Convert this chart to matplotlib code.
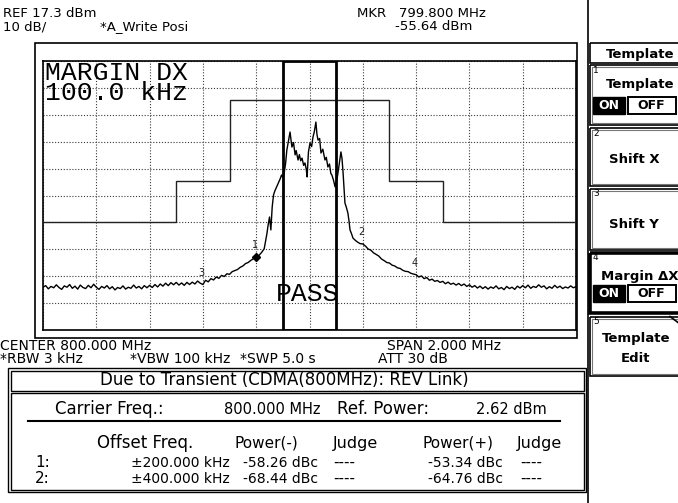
import matplotlib
matplotlib.use("Agg")
import matplotlib.pyplot as plt
from matplotlib.patches import Rectangle
import numpy as np

# ---------------- data ----------------
ref_level_dbm = 17.3
db_per_div = 10
center_mhz = 800.0
span_mhz = 2.0
ref_power_dbm = 2.62

trace_freq_mhz = [
    799.00, 799.01, 799.02, 799.03, 799.04, 799.05, 799.06, 799.07, 799.08, 799.09,
    799.10, 799.11, 799.12, 799.13, 799.14, 799.15, 799.16, 799.17, 799.18, 799.19,
    799.20, 799.21, 799.22, 799.23, 799.24, 799.25, 799.26, 799.27, 799.28, 799.29,
    799.30, 799.31, 799.32, 799.33, 799.34, 799.35, 799.36, 799.37, 799.38, 799.39,
    799.40, 799.41, 799.42, 799.43, 799.44, 799.45, 799.46, 799.47, 799.48, 799.49,
    799.50, 799.51, 799.52, 799.53, 799.54, 799.55, 799.56, 799.57, 799.58, 799.59,
    799.60, 799.61, 799.62, 799.63, 799.64, 799.65, 799.66, 799.67, 799.68, 799.69,
    799.70, 799.71, 799.72, 799.73, 799.74, 799.75, 799.76, 799.77, 799.78, 799.79,
    799.80, 799.81, 799.82, 799.83, 799.84, 799.845, 799.85, 799.855, 799.86, 799.865,
    799.87, 799.875, 799.88, 799.885, 799.89, 799.895, 799.90, 799.905, 799.91, 799.915,
    799.92, 799.927, 799.934, 799.94, 799.946, 799.95, 799.957, 799.962, 799.967, 799.972,
    799.978, 799.983, 799.988, 799.991, 799.996, 800.002, 800.008, 800.013, 800.018, 800.024,
    800.028, 800.032, 800.038, 800.043, 800.050, 800.058, 800.063, 800.069, 800.075, 800.080,
    800.084, 800.090, 800.096, 800.100, 800.103, 800.110, 800.118, 800.122, 800.126, 800.130,
    800.133, 800.138, 800.144, 800.148, 800.152, 800.158, 800.163, 800.17, 800.18, 800.19,
    800.20, 800.21, 800.22, 800.23, 800.24, 800.25, 800.26, 800.27, 800.28, 800.29,
    800.30, 800.31, 800.32, 800.33, 800.34, 800.35, 800.36, 800.37, 800.38, 800.39,
    800.40, 800.41, 800.42, 800.43, 800.44, 800.45, 800.46, 800.47, 800.48, 800.49,
    800.50, 800.51, 800.52, 800.53, 800.54, 800.55, 800.56, 800.57, 800.58, 800.59,
    800.60, 800.61, 800.62, 800.63, 800.64, 800.65, 800.66, 800.67, 800.68, 800.69,
    800.70, 800.71, 800.72, 800.73, 800.74, 800.75, 800.76, 800.77, 800.78, 800.79,
    800.80, 800.81, 800.82, 800.83, 800.84, 800.85, 800.86, 800.87, 800.88, 800.89,
    800.90, 800.91, 800.92, 800.93, 800.94, 800.95, 800.96, 800.97, 800.98, 800.99,
    801.00,
]
trace_level_dbm = [
    -66.8, -66.2, -67.4, -66.5, -67.0, -65.9, -66.9, -67.6, -66.3, -66.8,
    -65.8, -67.2, -66.4, -67.5, -66.0, -66.9, -67.3, -66.1, -67.0, -65.7,
    -66.8, -67.6, -66.5, -67.1, -66.2, -67.4, -66.6, -67.8, -66.9, -67.3,
    -66.3, -67.5, -66.8, -67.2, -66.0, -67.1, -66.5, -67.4, -66.2, -67.0,
    -66.1, -66.9, -65.8, -66.7, -65.6, -66.4, -65.3, -66.2, -65.1, -65.9,
    -65.0, -66.0, -65.2, -66.1, -65.0, -65.8, -64.9, -65.6, -64.5, -65.3,
    -65.8, -64.2, -64.8, -63.6, -64.1, -63.0, -63.5, -62.4, -62.8, -61.8,
    -62.0, -61.0, -60.6, -60.2, -59.4, -58.9, -58.0, -57.6, -56.8, -56.2,
    -55.64, -55.0, -53.9, -52.5, -47.0, -43.5, -40.7, -45.5, -37.0, -32.5,
    -31.0, -29.9, -28.9, -27.7, -26.5, -25.1, -26.0, -24.3, -21.0, -15.8,
    -13.0, -9.1, -14.7, -13.0, -17.6, -16.0, -19.5, -17.5, -19.8, -18.8,
    -21.5, -20.6, -23.0, -25.8, -16.5, -13.2, -14.5, -11.0, -9.0, -5.4,
    -10.0, -12.1, -11.5, -16.9, -15.5, -19.5, -18.5, -22.1, -21.0, -24.5,
    -25.1, -27.0, -29.5, -27.5, -26.9, -22.0, -16.5, -19.0, -24.3, -30.7,
    -35.5, -37.0, -39.2, -42.0, -45.5, -47.0, -48.5, -49.2, -50.0, -50.6,
    -50.72, -51.5, -52.6, -53.0, -54.0, -54.6, -55.2, -56.3, -56.9, -57.6,
    -57.8, -58.6, -58.9, -59.6, -59.8, -60.5, -60.9, -61.0, -61.6, -61.9,
    -62.14, -63.0, -62.6, -63.6, -63.2, -64.2, -63.8, -64.6, -64.3, -65.0,
    -64.6, -65.5, -64.9, -65.7, -65.3, -66.0, -65.4, -66.2, -65.6, -66.5,
    -65.9, -66.8, -66.2, -67.1, -66.4, -67.3, -66.6, -67.5, -66.7, -67.2,
    -66.3, -67.4, -66.9, -67.7, -66.5, -67.3, -66.8, -67.6, -66.4, -67.1,
    -66.2, -67.0, -66.0, -67.2, -66.5, -66.9, -65.9, -66.8, -66.3, -67.4,
    -66.6, -67.2, -66.1, -67.0, -66.4, -67.3, -66.7, -67.1, -66.3, -67.0,
    -66.6,
]

# template mask (relative to reference power)
template_edges_mhz = [799.0, 799.5, 799.7, 800.3, 800.5, 801.0]
template_dbc = [-45, -30, 0, -30, -45]

# margin box
margin_dx_mhz = 0.1

# markers
marker_ids = ["1", "2", "3", "4"]
marker_offsets_khz = [-200, 200, -400, 400]
marker_dbc = [-58.26, -53.34, -68.44, -64.76]

# result table
offset_labels = ["1:", "2:"]
offset_freqs = ["\u00b1200.000 kHz", "\u00b1400.000 kHz"]
power_minus = ["-58.26 dBc", "-68.44 dBc"]
power_plus = ["-53.34 dBc", "-64.76 dBc"]
judge_minus = ["----", "----"]
judge_plus = ["----", "----"]

# ---------------- figure ----------------
W, H = 678, 503
fig = plt.figure(figsize=(W / 100, H / 100), dpi=100)
fig.patch.set_facecolor("white")

# spectrum axes (pixel box: x 43..576, y 61..330)
gx0, gx1, gy0, gy1 = 43, 576, 61, 330
ax = fig.add_axes([gx0 / W, 1 - gy1 / H, (gx1 - gx0) / W, (gy1 - gy0) / H])
ax.set_zorder(1)
ax.patch.set_alpha(0)
fmin, fmax = center_mhz - span_mhz / 2, center_mhz + span_mhz / 2
ytop = ref_level_dbm
ybot = ref_level_dbm - 10 * db_per_div
ax.set_xlim(fmin, fmax)
ax.set_ylim(ybot, ytop)
ax.set_xticks(np.linspace(fmin, fmax, 11))
ax.set_yticks(np.linspace(ybot, ytop, 11))
ax.tick_params(length=0, labelbottom=False, labelleft=False)
ax.grid(True, color="#3a3a3a", linestyle=(0, (1, 1.6)), linewidth=0.8)
for s in ax.spines.values():
    s.set_linewidth(1.2)
    s.set_color("black")

# template
ax.stairs([ref_power_dbm + d for d in template_dbc], template_edges_mhz,
          baseline=None, color="#222222", linewidth=1.0, zorder=3)
# trace
ax.plot(trace_freq_mhz, trace_level_dbm, color="black", linewidth=1.0, zorder=4)
# margin box
ax.axvspan(center_mhz - margin_dx_mhz, center_mhz + margin_dx_mhz,
           fill=False, edgecolor="black", linewidth=2.0, zorder=5)
# markers
for mid, off, dbc in zip(marker_ids, marker_offsets_khz, marker_dbc):
    mf = center_mhz + off / 1000.0
    ml = ref_power_dbm + dbc
    if mid == "1":
        ax.plot([mf], [ml], marker="D", markersize=4.5, color="black", zorder=6)
    ax.annotate(mid, (mf, ml), xytext=(-1, 5), textcoords="offset points",
                fontsize=7, ha="center", va="bottom", color="#222222", zorder=6)

# overlay axes in pixel coordinates
bg = fig.add_axes([0, 0, 1, 1])
bg.set_zorder(2)
bg.patch.set_alpha(0)
bg.set_xlim(0, W)
bg.set_ylim(H, 0)
bg.axis("off")

SANS = "DejaVu Sans"
MONO = "Liberation Mono"


def T(x, y, s, size=9.5, ha="left", va="baseline", **kw):
    kw.setdefault("family", SANS)
    bg.text(x, y, s, fontsize=size, ha=ha, va=va, **kw)


def R(x0, y0, x1, y1, lw=1.0, ec="black", fc="none", **kw):
    bg.add_patch(Rectangle((x0, y0), x1 - x0, y1 - y0, linewidth=lw,
                           edgecolor=ec, facecolor=fc, **kw))


# header
T(3, 17, "REF 17.3 dBm")
T(3, 30, "10 dB/")
T(100, 30, "*A_Write Posi")
T(357, 17, "MKR   799.800 MHz")
T(395, 30, "-55.64 dBm")

# graph frame
R(35, 43, 577, 338, lw=1.2)
# separator
bg.plot([587.5, 587.5], [0, H], color="black", lw=1.2)

# big text in graph (two lines in one text object)
T(45, 61, "MARGIN DX\n100.0 kHz", size=19, family=MONO, va="top",
  linespacing=0.78)
T(308, 301, "PASS", size=19, family=MONO, ha="center")

# footer lines
T(0, 350, "CENTER 800.000 MHz", size=10)
T(387, 350, "SPAN 2.000 MHz", size=10)
T(0, 363, "*RBW 3 kHz", size=10)
T(130, 363, "*VBW 100 kHz", size=10)
T(240, 363, "*SWP 5.0 s", size=10)
T(378, 363, "ATT 30 dB", size=10)

# table
R(8, 368, 586, 492, lw=1.0)
R(10.5, 370.5, 583.5, 390.5, lw=1.0)
R(10.5, 393, 583.5, 489.5, lw=1.0)
T(284, 385, "Due to Transient (CDMA(800MHz): REV Link)", size=12, ha="center")
T(55, 414, "Carrier Freq.:", size=12)
T(320, 414, "800.000 MHz", size=10.5, ha="right")
T(337, 414, "Ref. Power:", size=12)
T(547, 414, "2.62 dBm", size=10.5, ha="right")
bg.plot([28, 560], [421, 421], color="black", lw=1.5)
T(97, 448, "Offset Freq.", size=12)
T(235, 448, "Power(-)", size=11)
T(333, 448, "Judge", size=11.5)
T(422, 448, "Power(+)", size=11)
T(517, 448, "Judge", size=11.5)
row_y = [467, 483]
for i in range(2):
    y = row_y[i]
    T(35, y, offset_labels[i], size=11)
    T(230, y, offset_freqs[i], size=10, ha="right")
    T(318, y, power_minus[i], size=10, ha="right")
    T(333, y, judge_minus[i], size=11)
    T(503, y, power_plus[i], size=10, ha="right")
    T(520, y, judge_plus[i], size=11)

# soft keys
KX0, KX1 = 589.5, 682
SK = dict(size=9.5, weight="bold", ha="center")
# title
R(KX0, 42.5, KX1, 62.5, lw=1.2)
T(640, 58, "Template", **SK)


def key(y0, y1, num, thick=False):
    if thick:
        R(KX0, y0, KX1, y1, lw=2.6)
    else:
        R(KX0, y0, KX1, y1, lw=1.2)
        R(KX0 + 2.5, y0 + 2.5, KX1, y1 - 2.5, lw=0.8, ec="#777777")
    T(593, y0 + 8, num, size=6.5, va="baseline")


def onoff(y0, y1):
    R(592.5, y0, 624.5, y1, lw=1.0, fc="black")
    R(627.5, y0, 676, y1, lw=1.4)
    yc = (y0 + y1) / 2
    T(608.5, yc, "ON", size=9, weight="bold", ha="center", va="center", color="white")
    T(651.5, yc, "OFF", size=9, weight="bold", ha="center", va="center")


key(64.5, 125, "1", thick=False)
T(640, 88, "Template", **SK)
onoff(97, 114)

key(127.5, 186, "2")
T(634, 163, "Shift X", **SK)

key(188.5, 250, "3")
T(634, 228, "Shift Y", **SK)

key(252.5, 313, "4", thick=True)
T(640, 280, "Margin \u0394X", **SK)
onoff(285, 302)

key(316.5, 376, "5")
T(636, 342, "Template", **SK)
T(636, 362, "Edit", **SK)
bg.plot([670, 680], [316.5, 324], color="black", lw=1.2)

fig.savefig("out.png", dpi=100, facecolor="white")
